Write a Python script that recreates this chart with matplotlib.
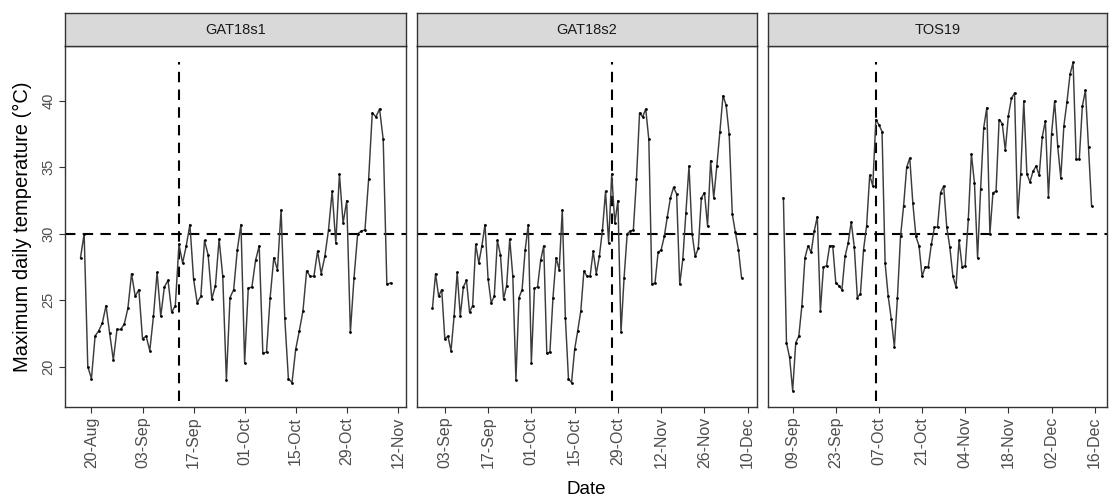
import matplotlib
matplotlib.use('Agg')
import matplotlib.pyplot as plt
import matplotlib.dates as mdates
import pandas as pd

plt.rcParams['font.family'] = ['Liberation Sans', 'DejaVu Sans']

# ---------------- data ----------------
panel_names = ['GAT18s1', 'GAT18s2', 'TOS19']

# shared GAT18 weather series (daily max temperature), starting 17-Aug-2018
gat18_start = '2018-08-17'
gat18_tmax = [
    28.2, 30.0, 20.0, 19.1, 22.3, 22.7, 23.3, 24.6, 22.5, 20.5,
    22.8, 22.8, 23.2, 24.4, 27.0, 25.3, 25.8, 22.1, 22.3, 21.2,
    23.8, 27.1, 23.8, 26.0, 26.5, 24.1, 24.6, 29.2, 27.8, 29.1,
    30.7, 26.6, 24.8, 25.3, 29.5, 28.4, 25.1, 26.1, 29.6, 26.8,
    19.0, 25.2, 25.8, 28.8, 30.7, 20.3, 25.9, 26.0, 28.0, 29.1,
    21.0, 21.1, 25.2, 28.2, 27.3, 31.8, 23.7, 19.1, 18.8, 21.3,
    22.7, 24.2, 27.2, 26.8, 26.8, 28.7, 27.0, 28.3, 30.3, 33.2,
    29.3, 34.5, 30.8, 32.5, 22.6, 26.7, 30.0, 30.2, 30.3, 34.1,
    39.1, 38.8, 39.4, 37.1, 26.2, 26.3,
    28.6, 28.8, 29.8, 31.3, 32.7, 33.5, 33.0, 26.2, 28.1, 31.6,
    35.1, 30.0, 28.3, 28.9, 32.7, 33.1, 30.6, 35.5, 32.7, 35.1,
    37.7, 40.4, 39.7, 37.5, 31.5, 30.1, 28.8, 26.7,
]

# TOS19 series, starting 06-Sep-2019
tos19_start = '2019-09-06'
tos19_tmax = [
    32.7, 21.8, 20.7, 18.2, 21.8, 22.3, 24.6, 28.2, 29.1, 28.6,
    30.2, 31.3, 24.2, 27.5, 27.6, 29.1, 29.1, 26.3, 26.1, 25.8,
    28.3, 29.3, 30.9, 29.0, 25.2, 25.5, 28.8, 30.6, 34.4, 33.6,
    38.6, 38.2, 37.7, 27.8, 25.3, 23.6, 21.5, 25.2, 29.8, 32.1,
    35.0, 35.7, 32.3, 29.8, 29.1, 26.8, 27.5, 27.5, 29.2, 30.5,
    30.5, 33.1,
    33.6, 30.5, 29.0, 26.8, 26.0, 29.5, 27.5, 27.6, 31.1, 36.0,
    33.8, 28.2, 33.4, 38.0, 39.5, 30.0, 33.1, 33.2, 38.6, 38.3,
    36.3, 38.9, 40.2, 40.6, 31.3, 34.5, 40.0, 34.5, 33.9, 34.7,
    35.1, 34.4, 37.3, 38.5, 32.8, 37.5, 40.0, 36.6, 34.2, 38.1,
    39.9, 42.0, 42.9, 35.6, 35.6, 39.6, 40.8, 36.5, 32.1,
]

panel_first_date = ['2018-08-17', '2018-08-30', '2019-09-06']
panel_last_date = ['2018-11-10', '2018-12-08', '2019-12-15']
sowing_dates = ['2018-09-13', '2018-10-27', '2019-10-06']
first_tick = ['2018-08-20', '2018-09-03', '2019-09-09']
threshold = 30
y_ticks = [20, 25, 30, 35, 40]

gat18 = pd.Series(gat18_tmax, index=pd.date_range(gat18_start, periods=len(gat18_tmax), freq='D'))
tos19 = pd.Series(tos19_tmax, index=pd.date_range(tos19_start, periods=len(tos19_tmax), freq='D'))
source = [gat18, gat18, tos19]

# ---------------- layout ----------------
W, H = 1112, 499
fig = plt.figure(figsize=(W / 100, H / 100), dpi=100)

panel_px = [(65, 406), (417, 757), (768, 1107)]
top_px, bot_px, strip_top_px = 46, 407, 13

ymin_all = min(min(gat18_tmax), min(tos19_tmax))
ymax_all = max(max(gat18_tmax), max(tos19_tmax))
yr = ymax_all - ymin_all
ylim = (ymin_all - 0.05 * yr, ymax_all + 0.05 * yr)

frame_col = '#333333'
text_col = '#4d4d4d'
dash = (5, 3.5)

for i, name in enumerate(panel_names):
    x0, x1 = panel_px[i]
    ax = fig.add_axes([x0 / W, 1 - bot_px / H, (x1 - x0) / W, (bot_px - top_px) / H])
    s = source[i].loc[panel_first_date[i]:panel_last_date[i]]
    ax.plot(s.index, s.values, color='#3c3c3c', lw=1.05, zorder=3)
    ax.plot(s.index, s.values, 'o', ms=2.0, color='black', mec='none', zorder=4)

    d0, d1 = s.index[0], s.index[-1]
    pad = (d1 - d0) * 0.05
    ax.set_xlim(d0 - pad, d1 + pad)
    ax.set_ylim(*ylim)

    ax.axhline(threshold, color='black', lw=1.5, dashes=dash, zorder=2)
    ax.axvline(pd.Timestamp(sowing_dates[i]), ymin=0.018, ymax=0.955,
               color='black', lw=1.5, dashes=dash, zorder=2)

    ticks = pd.date_range(first_tick[i], periods=8, freq='14D')
    ticks = [t for t in ticks if d0 - pad <= t <= d1 + pad]
    ax.set_xticks(ticks)
    ax.xaxis.set_major_formatter(mdates.DateFormatter('%d-%b'))
    ax.tick_params(axis='x', rotation=90, labelsize=11.5, labelcolor=text_col,
                   color=frame_col, length=4, width=0.8, pad=3)
    if i == 0:
        ax.set_yticks(y_ticks)
        ax.tick_params(axis='y', labelsize=10.5, labelcolor=text_col,
                       color=frame_col, length=4, width=0.8, pad=3)
        for lab in ax.get_yticklabels():
            lab.set_rotation(90)
            lab.set_va('center')
    else:
        ax.set_yticks([])
    for sp in ax.spines.values():
        sp.set_color(frame_col)
        sp.set_linewidth(1.0)

    sax = fig.add_axes([x0 / W, 1 - top_px / H, (x1 - x0) / W, (top_px - strip_top_px) / H])
    sax.set_facecolor('#d9d9d9')
    sax.set_xticks([])
    sax.set_yticks([])
    for sp in sax.spines.values():
        sp.set_color(frame_col)
        sp.set_linewidth(1.0)
    sax.text(0.5, 0.5, name, ha='center', va='center', fontsize=10.5,
             color='#1a1a1a', transform=sax.transAxes)

fig.text(22 / W, 1 - ((top_px + bot_px) / 2) / H, 'Maximum daily temperature (°C)',
         rotation=90, ha='center', va='center', fontsize=14.5, color='black')
fig.text(586 / W, 1 - 490 / H, 'Date', ha='center', va='center', fontsize=13.5, color='black')

fig.savefig('out.png', dpi=100)
